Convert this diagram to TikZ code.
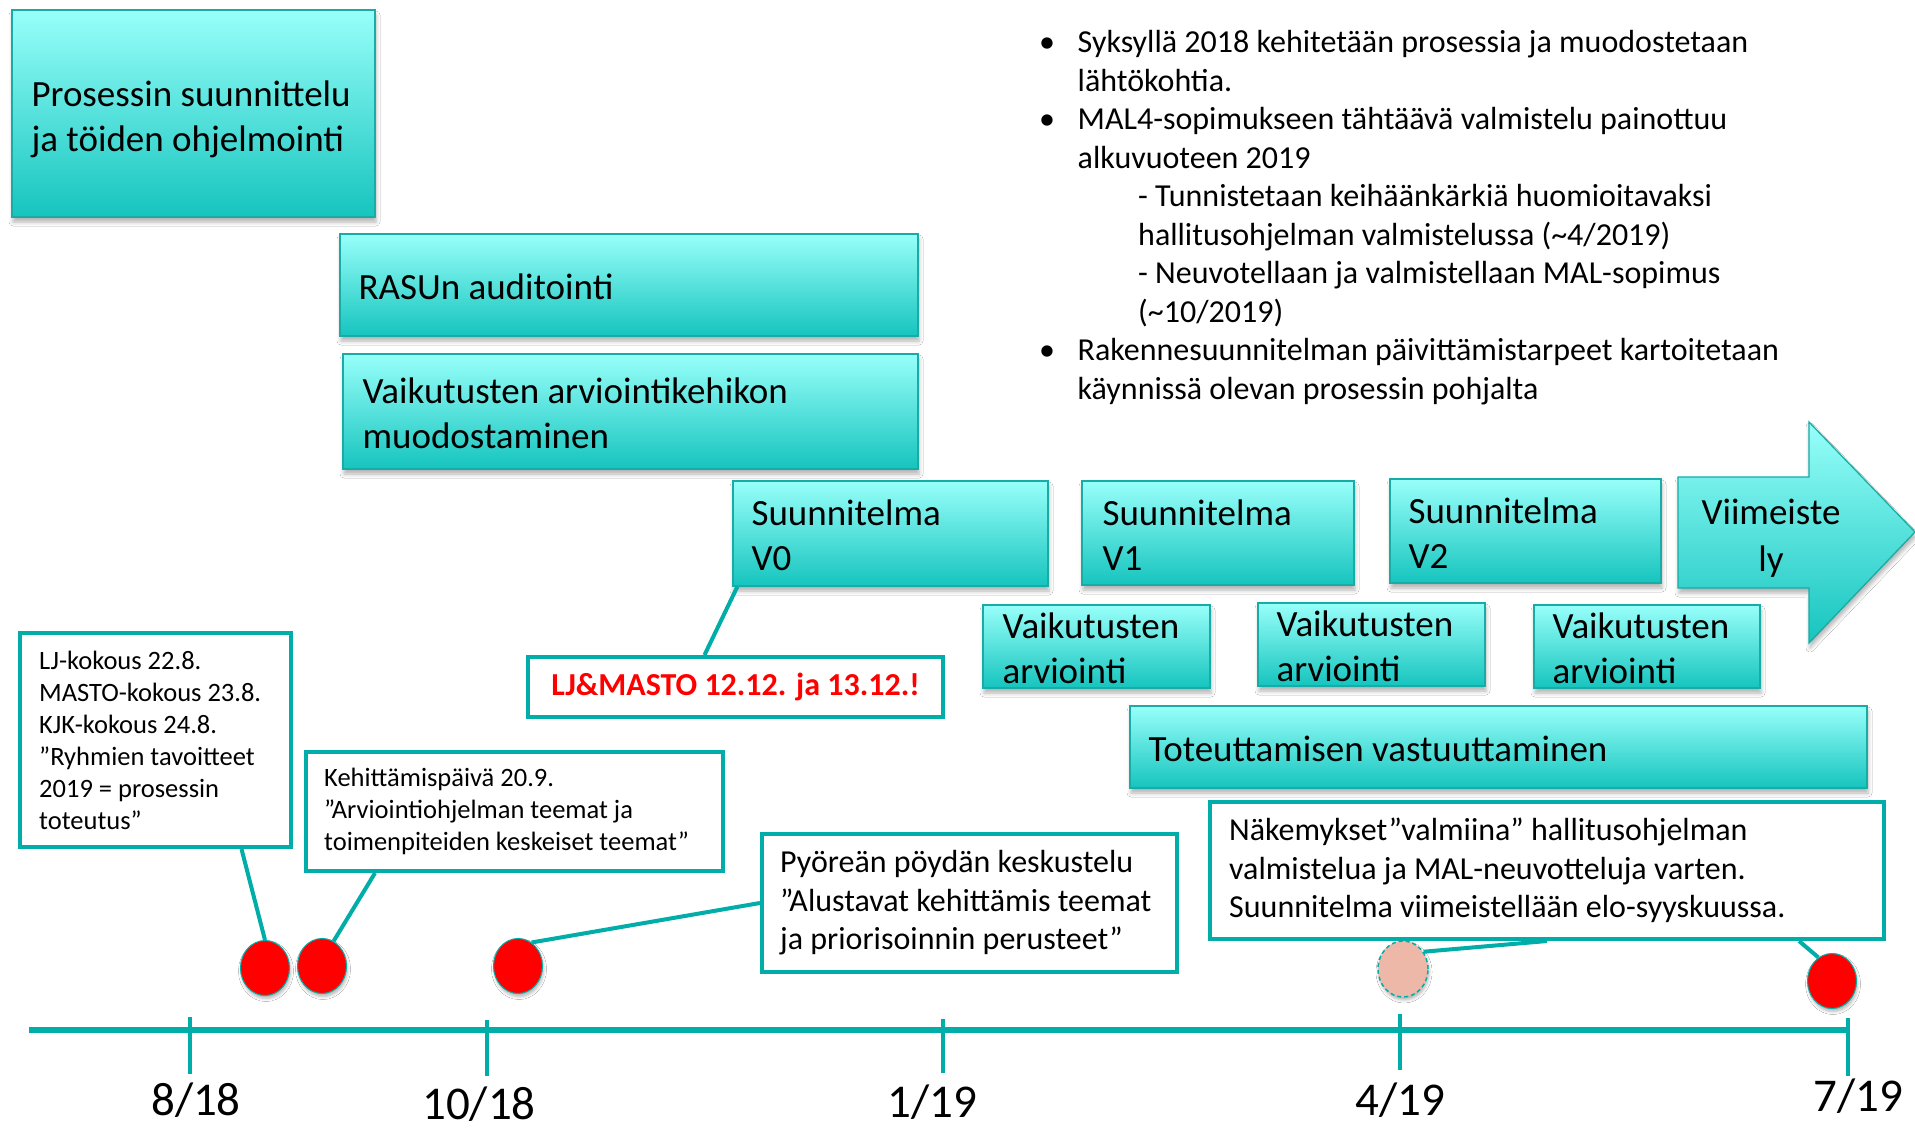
\documentclass[tikz,border=0pt]{standalone}
\usepackage{fontspec}
\setmainfont{Carlito}
\usetikzlibrary{shapes.geometric,shadows.blur}
\definecolor{boxtop}{RGB}{152,255,250}
\definecolor{boxbot}{RGB}{22,196,190}
\definecolor{boxline}{RGB}{24,172,166}
\definecolor{tealc}{RGB}{0,173,168}
\definecolor{pinkc}{RGB}{237,184,168}
\tikzset{
  tbox/.style={draw=boxline, line width=1.3pt, top color=boxtop, bottom color=boxbot, inner sep=0pt,
    blur shadow={shadow xshift=1pt, shadow yshift=-5pt, shadow blur radius=4pt, shadow opacity=30}},
  btext/.style={font=\fontsize{37}{45}\selectfont, align=left, anchor=west, inner sep=0pt, yshift=-2pt},
  callout/.style={draw=tealc, line width=4pt, fill=white, inner sep=0pt},
  ctext/.style={align=left, anchor=west, inner sep=0pt},
  smalltext/.style={font=\fontsize{26.5}{32}\selectfont},
  midtext/.style={font=\fontsize{32}{38.5}\selectfont},
  conn/.style={draw=tealc, line width=4pt},
  reddot/.style={ellipse, minimum width=49pt, minimum height=55pt, fill=red, draw=tealc, line width=1pt, inner sep=0pt,
    blur shadow={shadow xshift=1pt, shadow yshift=-3pt, shadow blur radius=3pt, shadow opacity=30}},
  pinkdot/.style={ellipse, minimum width=50pt, minimum height=56pt, fill=pinkc, draw=tealc, line width=1.5pt, dash pattern=on 4pt off 3pt, inner sep=0pt,
    blur shadow={shadow xshift=1pt, shadow yshift=-3pt, shadow blur radius=3pt, shadow opacity=30}},
  axisline/.style={draw=tealc, line width=5.5pt},
  tickline/.style={draw=tealc, line width=4.5pt},
  axlabel/.style={font=\fontsize{47}{56}\selectfont, anchor=base, inner sep=0pt}
}
\begin{document}
\begin{tikzpicture}[x=1pt,y=-1pt]
\useasboundingbox (0,0) rectangle (1915,1129);
\fill[white] (0,0) rectangle (1915,1129);

% gradient boxes
\node[tbox, minimum width=363pt, minimum height=207pt] (proc) at (193.5,113.5) {};
\node[btext, yshift=-4pt] (proct) at ([xshift=20pt]proc.west) {Prosessin suunnittelu\\ja töiden ohjelmointi};

\node[tbox, minimum width=578pt, minimum height=102pt] (rasu) at (629,285) {};
\node[btext] (rasut) at ([xshift=19pt]rasu.west) {RASUn auditointi};

\node[tbox, minimum width=575pt, minimum height=115pt] (kehikko) at (630.5,411.5) {};
\node[btext] (kehikkot) at ([xshift=20pt]kehikko.west) {Vaikutusten arviointikehikon\\muodostaminen};

\node[tbox, minimum width=315pt, minimum height=105pt] (v0) at (890.5,533.5) {};
\node[btext] (v0t) at ([xshift=19pt]v0.west) {Suunnitelma\\V0};

\node[tbox, minimum width=272pt, minimum height=104pt] (v1) at (1218,533) {};
\node[btext] (v1t) at ([xshift=21pt]v1.west) {Suunnitelma\\V1};

\node[tbox, minimum width=271pt, minimum height=104pt] (v2) at (1525.5,531) {};
\node[btext] (v2t) at ([xshift=19pt]v2.west) {Suunnitelma\\V2};

% arrow
\path[tbox] (1678,477) -- (1809,477) -- (1809,422) -- (1915,532) -- (1809,643) -- (1809,588) -- (1678,588) -- cycle;
\node[font=\fontsize{37}{47}\selectfont, align=center, inner sep=0pt] (viim) at (1771,538) {Viimeiste\\ly};

\node[tbox, minimum width=227pt, minimum height=83pt] (va1) at (1096.5,646.5) {};
\node[btext] (va1t) at ([xshift=20pt]va1.west) {Vaikutusten\\arviointi};

\node[tbox, minimum width=227pt, minimum height=83pt] (va2) at (1371.5,644.5) {};
\node[btext] (va2t) at ([xshift=19pt]va2.west) {Vaikutusten\\arviointi};

\node[tbox, minimum width=226pt, minimum height=83pt] (va3) at (1647,646.5) {};
\node[btext] (va3t) at ([xshift=19pt]va3.west) {Vaikutusten\\arviointi};

\node[tbox, minimum width=737pt, minimum height=82pt] (tot) at (1498.5,747) {};
\node[btext] (tott) at ([xshift=19pt]tot.west) {Toteuttamisen vastuuttaminen};

% bullet notes
\node[anchor=base west, inner sep=0pt, font=\fontsize{32}{38.5}\selectfont] (notes) at (1039,53) {%
\begin{tabular}[t]{@{}p{38.5pt}@{}l@{}}
•&Syksyllä 2018 kehitetään prosessia ja muodostetaan\\
&lähtökohtia.\\
•&MAL4-sopimukseen tähtäävä valmistelu painottuu\\
&alkuvuoteen 2019\\
&\hspace{60.5pt}- Tunnistetaan keihäänkärkiä huomioitavaksi\\
&\hspace{60.5pt}hallitusohjelman valmistelussa (\textasciitilde 4/2019)\\
&\hspace{60.5pt}- Neuvotellaan ja valmistellaan MAL-sopimus\\
&\hspace{60.5pt}(\textasciitilde 10/2019)\\
•&Rakennesuunnitelman päivittämistarpeet kartoitetaan\\
&käynnissä olevan prosessin pohjalta
\end{tabular}};

% callouts
\node[callout, minimum width=271pt, minimum height=214pt] (lj) at (155.5,740) {};
\node[ctext, smalltext] (ljt) at ([xshift=21pt]lj.west) {LJ-kokous 22.8.\\MASTO-kokous 23.8.\\KJK-kokous 24.8.\\”Ryhmien tavoitteet\\2019 = prosessin\\toteutus”};

\node[callout, minimum width=417pt, minimum height=119pt] (keh) at (514.5,811.5) {};
\node[ctext, smalltext] (keht) at ([xshift=20pt]keh.west) {Kehittämispäivä 20.9.\\”Arviointiohjelman teemat ja\\toimenpiteiden keskeiset teemat”};

\node[callout, minimum width=415pt, minimum height=60pt, text=red, font=\fontsize{32}{38}\selectfont\bfseries] (ljm) at (735.5,687) {\raisebox{-3pt}{LJ\&MASTO 12.12. ja 13.12.!}};

\node[callout, minimum width=415pt, minimum height=138pt] (pyo) at (969.5,903) {};
\node[ctext, midtext] (pyot) at ([xshift=20pt]pyo.west) {Pyöreän pöydän keskustelu\\”Alustavat kehittämis teemat\\ja priorisoinnin perusteet”};

\node[callout, minimum width=674pt, minimum height=137pt] (nak) at (1547,870.5) {};
\node[ctext, midtext] (nakt) at ([xshift=21pt]nak.west) {Näkemykset”valmiina” hallitusohjelman\\valmistelua ja MAL-neuvotteluja varten.\\Suunnitelma viimeistellään elo-syyskuussa.};

% dots
\node[reddot] (c1) at (265,968) {};
\node[reddot] (c2) at (322,966) {};
\node[reddot] (c3) at (518,966) {};
\node[pinkdot] (c4) at (1403,969) {};
\node[reddot] (c5) at (1832,981) {};

% connectors
\draw[conn] ([xshift=86pt]lj.south) -- (c1.north);
\draw[conn] ([xshift=-139.5pt]keh.south) -- (c2.65);
\draw[conn] (pyo.west) -- (c3.60);
\draw[conn] ([xshift=5pt]v0.south west) -- ([xshift=-31pt]ljm.north);
\draw[conn] (nak.south) -- (c4.40);
\draw[conn] ([xshift=-87pt]nak.south east) -- (c5.120);

% axis
\coordinate (ax0) at (29,1030);
\coordinate (ax1) at (1850,1030);
\draw[axisline] (ax0) -- (ax1);
\draw[tickline] (190,1017) -- (190,1074);
\draw[tickline] (487,1020) -- (487,1076);
\draw[tickline] (943,1019) -- (943,1073);
\draw[tickline] (1400,1014) -- (1400,1070);
\draw[tickline] (1848,1018) -- (1848,1076);
\node[axlabel] (l1) at (196,1115) {8/18};
\node[axlabel] (l2) at (479,1119) {10/18};
\node[axlabel] (l3) at (932,1117) {1/19};
\node[axlabel] (l4) at (1400,1115) {4/19};
\node[axlabel] (l5) at (1858,1111) {7/19};
\end{tikzpicture}
\end{document}
